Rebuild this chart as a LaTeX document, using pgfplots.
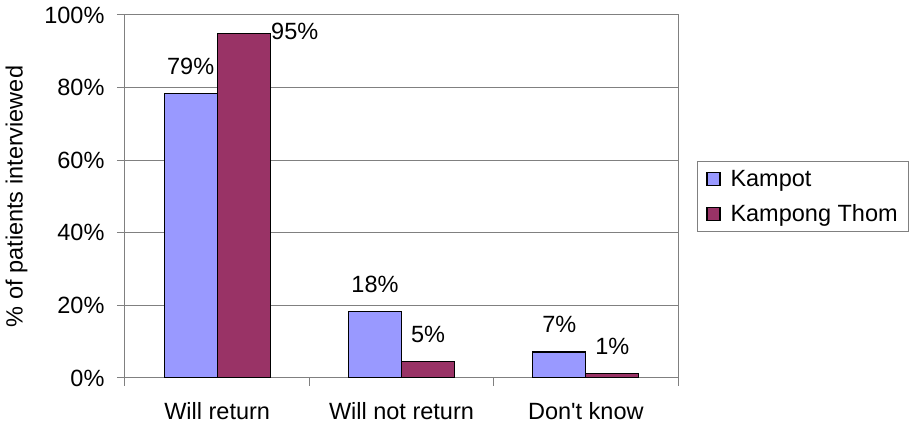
\documentclass[border=0pt]{standalone}
\usepackage{pgfplots}
\pgfplotsset{compat=1.18}
\usepackage{fontspec}
\setmainfont{Liberation Sans}
\definecolor{kampot}{HTML}{9999FF}
\definecolor{kthom}{HTML}{993366}
\definecolor{gridc}{HTML}{808080}
\newcommand{\cf}{\fontsize{23.5}{28}\selectfont}
\begin{document}
\begin{tikzpicture}
\begin{axis}[
  scale only axis, width=553pt, height=363pt,
  ybar, bar width=53pt,
  xmin=-0.5, xmax=2.5, ymin=0, ymax=100,
  /pgf/number format/assume math mode=true,
  ytick={0,20,40,60,80,100},
  yticklabel={\pgfmathprintnumber{\tick}\%},
  xtick={0,1,2}, xticklabels={Will return, Will not return, Don\textquotesingle t know},
  major x tick style={draw=none},
  extra x ticks={-0.5,0.5,1.5,2.5}, extra x tick labels={},
  extra x tick style={major x tick style={draw=gridc, line width=1pt}, xmajorgrids=false},
  tick align=outside, major tick length=8pt,
  tick pos=left,
  ytick style={draw=gridc, line width=1pt},
  ymajorgrids, grid style={gridc, line width=1pt},
  axis line style={gridc, line width=1pt},
  tick label style={font=\cf},
  yticklabel style={xshift=-9pt},
  xticklabel style={yshift=-13pt},
  ylabel={\% of patients interviewed},
  label style={font=\cf},
  ylabel style={yshift=10pt},
  legend style={at={(1.034,0.5)}, anchor=west, draw=gridc, line width=1pt, font=\cf,
    row sep=13pt, inner xsep=9pt, inner ysep=6pt,
    /tikz/every odd column/.append style={column sep=8pt}},
  legend cell align=left,
  legend image code/.code={\draw[#1, line width=1.2pt, draw=black] (0pt,-6.5pt) rectangle (13pt,6.5pt);},
  point meta=explicit,
]
\addplot[fill=kampot, draw=black, line width=1.3pt, bar shift=-26.5pt,
  nodes near coords={\pgfmathprintnumber{\pgfplotspointmeta}\%},
  every node near coord/.append style={font=\cf, text=black, yshift=15pt}]
  coordinates {(0,78.4) [79] (1,18.3) [18] (2,7.2) [7]};
\addlegendentry{Kampot}
\addplot[fill=kthom, draw=black, line width=1.3pt, bar shift=26.5pt]
  coordinates {(0,94.9) [95] (1,4.6) [5] (2,1.2) [1]};
\addlegendentry{Kampong Thom}
\addplot[draw=none, fill=none, forget plot, bar shift=26.5pt,
  nodes near coords={\pgfmathprintnumber{\pgfplotspointmeta}\%},
  every node near coord/.append style={font=\cf, text=black, yshift=15pt}]
  coordinates {(1,4.6) [5] (2,1.2) [1]};
\addplot[draw=none, fill=none, forget plot, bar shift=26.5pt,
  nodes near coords={\pgfmathprintnumber{\pgfplotspointmeta}\%},
  every node near coord/.append style={font=\cf, text=black, anchor=west, xshift=24pt, yshift=2pt}]
  coordinates {(0,94.9) [95]};
\coordinate (o) at (rel axis cs:0,0);
\end{axis}
\pgfresetboundingbox
\path ([shift={(-125pt,-50pt)}]o) rectangle ++(915pt,428pt);
\end{tikzpicture}
\end{document}
